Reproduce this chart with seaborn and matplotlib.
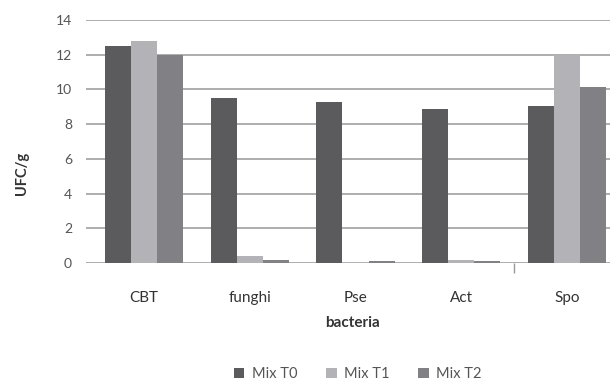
import pandas as pd
import matplotlib.pyplot as plt
import seaborn as sns

categories = ['CBT', 'funghi', 'Pse', 'Act', 'Spo']
series = ['Mix T0', 'Mix T1', 'Mix T2']
mix_t0 = [12.5, 9.5, 9.3, 8.9, 9.05]
mix_t1 = [12.8, 0.4, 0.05, 0.15, 12.0]
mix_t2 = [12.0, 0.17, 0.1, 0.1, 10.15]
colors = ['#5b5b5d', '#b3b3b7', '#818185']

if __name__ == '__main__':
    df = pd.DataFrame({'bacteria': categories * 3,
                       'mix': [s for s in series for _ in categories],
                       'value': mix_t0 + mix_t1 + mix_t2})

    sns.set_style("white")
    plt.rcParams['font.family'] = ['Lato', 'DejaVu Sans']

    fig = plt.figure(figsize=(6.1, 3.82), dpi=100)
    # axes run past the right edge (the reference is cropped there)
    ax = fig.add_axes([86 / 610, 119 / 382, 534 / 610, 243 / 382])
    sns.barplot(data=df, x='bacteria', y='value', hue='mix', palette=colors,
                width=0.74, gap=0, saturation=1, ax=ax, legend=True,
                edgecolor='none', linewidth=0)

    ax.set_ylim(0, 14)
    ax.set_xlim(-0.547, 4.5)
    ax.set_yticks(range(0, 15, 2))
    ax.yaxis.grid(True, color='#a0a0a0', linewidth=1.2)
    ax.set_axisbelow(True)
    for s in ax.spines.values():
        s.set_visible(False)
    ax.tick_params(axis='both', length=0)
    ax.tick_params(axis='y', pad=10, labelsize=10, colors='#555555')
    ax.tick_params(axis='x', pad=20, labelsize=11, colors='#333333')
    # the lone tick between Act and Spo
    ax.set_xticks([3.5], minor=True)
    ax.tick_params(axis='x', which='minor', bottom=True, length=7, width=1,
                   color='#999999', labelbottom=False)

    ax.set_ylabel('UFC/g', fontsize=10.5, fontweight='bold', color='#333333')
    ax.yaxis.label.set_va('center')
    ax.yaxis.set_label_coords(-0.12, 0.37)
    ax.set_xlabel('bacteria', fontsize=11, fontweight='bold', color='#333333')
    ax.xaxis.label.set_va('center')
    ax.xaxis.set_label_coords(0.5, -0.247)

    ax.legend(loc='center', bbox_to_anchor=(0.509, -0.457),
              ncol=3, frameon=False, fontsize=10.5, handlelength=0.7, handleheight=0.7,
              columnspacing=2.0, handletextpad=0.5, labelcolor='#555555')

    fig.savefig('out.png', dpi=100)
